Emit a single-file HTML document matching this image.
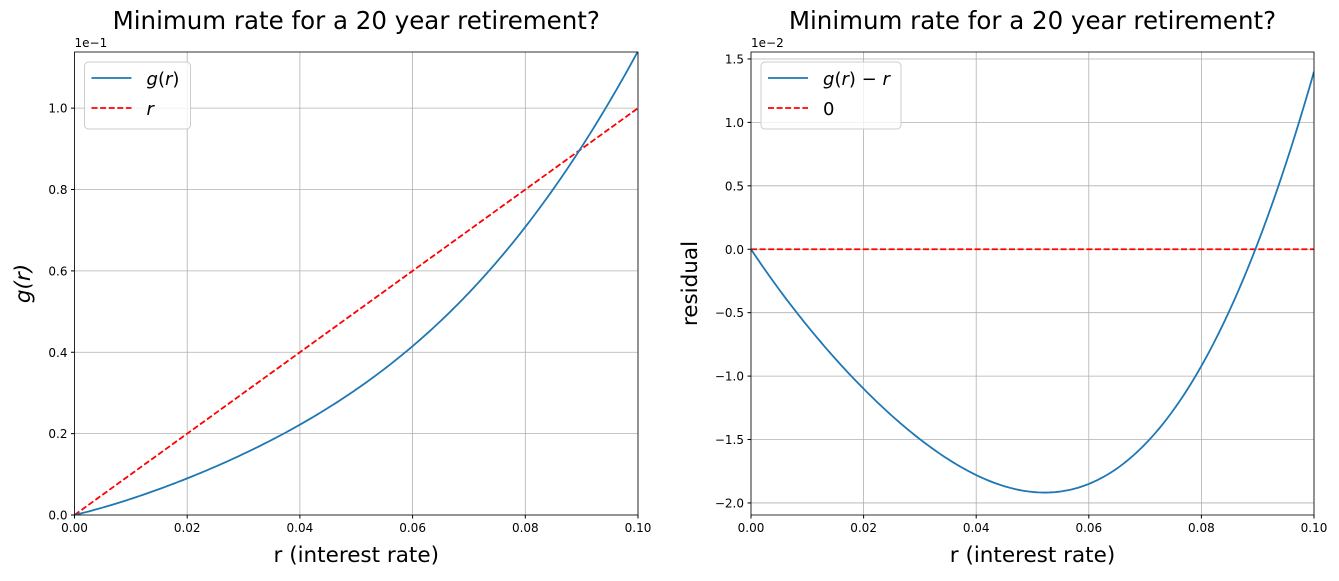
<!DOCTYPE html>
<html><head><meta charset="utf-8"><style>
body{margin:0;background:#fff;}
text{font-family:"DejaVu Sans","Liberation Sans",sans-serif;}
</style></head><body>
<svg id="s" width="1339" height="576" xmlns="http://www.w3.org/2000/svg"></svg>
<script>
const s=document.getElementById('s');let h='';
const xs=[0,0.02,0.04,0.06,0.08,0.1],ys=[0,-0.011,-0.0178,-0.0185,-0.0092,0.014];
function res(x){let t=0;for(let i=0;i<6;i++){let p=ys[i];for(let j=0;j<6;j++)if(j!=i)p*=(x-xs[j])/(xs[i]-xs[j]);t+=p;}return t;}
function panel(L,R,T,B,ymin,ymax,yt,ylab,yfmt,exp,title,ylabel,ylabelItalic,leg,g,ylx){
 const W=R-L,H=B-T;const X=x=>L+x/0.1*W,Y=y=>B-(y-ymin)/(ymax-ymin)*H;
 for(let i=0;i<=5;i++){let x=X(i*0.02);h+=`<line x1="${x}" y1="${T}" x2="${x}" y2="${B}" stroke="#b0b0b0" stroke-width="0.8"/><line x1="${x}" y1="${B}" x2="${x}" y2="${B+3.5}" stroke="#000"/><text x="${x}" y="${B+17}" font-size="12" text-anchor="middle">${(i*0.02).toFixed(2)}</text>`;}
 yt.forEach((v,i)=>{let y=Y(v);h+=`<line x1="${L}" y1="${y}" x2="${R}" y2="${y}" stroke="#b0b0b0" stroke-width="0.8"/><line x1="${L-3.5}" y1="${y}" x2="${L}" y2="${y}" stroke="#000"/><text x="${L-7}" y="${y+4.5}" font-size="12" text-anchor="end">${ylab[i]}</text>`;});
 h+=`<text x="${L}" y="${T-5}" font-size="12">${exp}</text>`;
 let p1='';for(let i=0;i<=200;i++){let x=i*0.0005;let r=res(x);p1+=(i?'L':'M')+X(x).toFixed(2)+','+Y(g?r+x:r).toFixed(2);}
 h+=`<svg x="${L}" y="${T}" width="${W}" height="${H}" overflow="hidden" viewBox="${L} ${T} ${W} ${H}">`;
 if(g) h+=`<line x1="${X(0)}" y1="${Y(0)}" x2="${X(0.1)}" y2="${Y(0.1)}" stroke="red" stroke-width="1.8" stroke-dasharray="6,2.6"/>`;
 else h+=`<line x1="${X(0)}" y1="${Y(0)}" x2="${X(0.1)}" y2="${Y(0)}" stroke="red" stroke-width="1.8" stroke-dasharray="6,2.6"/>`;
 h+=`<path d="${p1}" fill="none" stroke="#1f77b4" stroke-width="1.8"/></svg>`;
 h+=`<rect x="${L}" y="${T}" width="${W}" height="${H}" fill="none" stroke="#000" stroke-width="0.8"/>`;
 h+=`<text x="${(L+R)/2}" y="${T-23}" font-size="24.5" text-anchor="middle">${title}</text>`;
 h+=`<text x="${(L+R)/2}" y="${B+47}" font-size="21.5" text-anchor="middle">r (interest rate)</text>`;
 let cy=(T+B)/2;h+=`<text x="${ylx}" y="${cy}" font-size="21.5" text-anchor="middle" transform="rotate(-90 ${ylx} ${cy})" ${ylabelItalic?'font-style="italic" font-family="DejaVu Serif"':''}>${ylabel}</text>`;
 h+=`<rect x="${L+10}" y="${T+10}" width="${leg[2]}" height="67" rx="4" fill="#fff" fill-opacity="0.8" stroke="#ccc"/>`;
 h+=`<line x1="${L+17}" y1="${T+26}" x2="${L+57}" y2="${T+26}" stroke="#1f77b4" stroke-width="1.8"/><line x1="${L+17}" y1="${T+56}" x2="${L+57}" y2="${T+56}" stroke="red" stroke-width="1.8" stroke-dasharray="6,2.6"/>`;
 h+=`<text x="${L+72}" y="${T+33}" font-size="18">${leg[0]}</text><text x="${L+72}" y="${T+63}" font-size="18">${leg[1]}</text>`;
}
panel(74.5,638,52,515,0,0.1138,[0,0.02,0.04,0.06,0.08,0.1],['0.0','0.2','0.4','0.6','0.8','1.0'],0,'1e−1','Minimum rate for a 20 year retirement?','g(r)',true,['<tspan font-style="italic">g</tspan>(<tspan font-style="italic">r</tspan>)','<tspan font-style="italic">r</tspan>',106],true,30);
panel(751,1314,52,515,-0.02095,0.01555,[-0.02,-0.015,-0.01,-0.005,0,0.005,0.01,0.015],['−2.0','−1.5','−1.0','−0.5','0.0','0.5','1.0','1.5'],0,'1e−2','Minimum rate for a 20 year retirement?','residual',false,['<tspan font-style="italic">g</tspan>(<tspan font-style="italic">r</tspan>) − <tspan font-style="italic">r</tspan>','0',140],false,697);
s.innerHTML=h;
</script>
</body></html>
